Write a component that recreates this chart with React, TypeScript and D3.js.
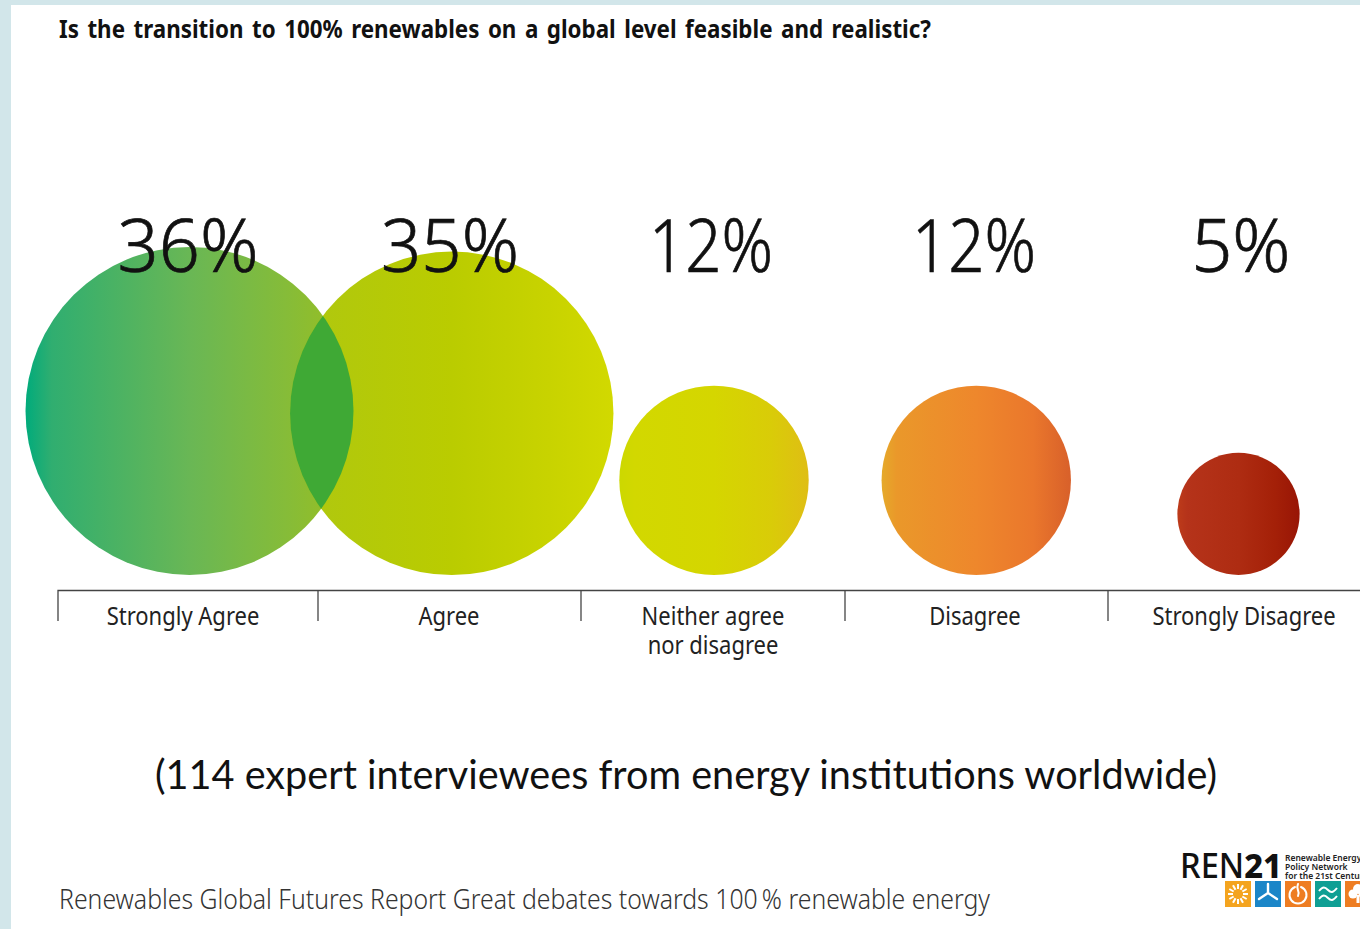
import React from "react";
import * as d3 from "d3";

const categories = ["Strongly Agree", "Agree", "Neither agree|nor disagree", "Disagree", "Strongly Disagree"];
const shares = [36, 35, 12, 12, 5];
const shareLabels = ["36%", "35%", "12%", "12%", "5%"];
const gradientColours = [
  ["#00ab7c", "#30ae70", "#69b755", "#86bc38", "#9bbf1e"],
  ["#a0c31c", "#b0c80e", "#bacc00", "#c8d300", "#d2d900"],
  ["#ccd800", "#d2d800", "#d5d600", "#d9cc08", "#dfbe14"],
  ["#e5aa2a", "#ea982a", "#ee872c", "#ea772c", "#d8602a"],
  ["#bd3b1a", "#b5331a", "#ae2c12", "#a42008", "#981505"],
];
const gradientOffsets = [0, 8, 50, 80, 100];
const labelCentres = [188, 450, 711, 974, 1241];
const labelWidths = [141, 138, 124, 124, 99];
const categoryCentres = [183, 449, 713, 975, 1244];
const bracketTicks = [58, 318, 581, 845, 1108];
const logoTiles = ["#f4a41f", "#1b86c8", "#ee7d22", "#0f9f94", "#ee7d22"];
const logoLines = ["Renewable Energy", "Policy Network", "for the 21st Century"];

const sans = "'Noto Sans', sans-serif";
const baseline = 575;

const radius = d3.scaleSqrt().domain([0, 36]).range([0, 164]);
const centre = d3.scalePoint<string>().domain(categories).range([189.5, 1238.5]);
const bracket = d3.line()([[bracketTicks[0], 621], [bracketTicks[0], 590.5], [1360, 590.5]]) as string;

function SunTile({ x }: { x: number }) {
  const rays = d3.range(12).map((i) => (i * Math.PI) / 6);
  return (
    <g transform={`translate(${x + 13},894)`} stroke="#fff" strokeWidth={2}>
      {rays.map((a, i) => (
        <line key={i} x1={5 * Math.cos(a)} y1={5 * Math.sin(a)} x2={10 * Math.cos(a)} y2={10 * Math.sin(a)} />
      ))}
    </g>
  );
}

function WindTile({ x }: { x: number }) {
  return (
    <g transform={`translate(${x + 13},893)`} stroke="#fff" strokeWidth={2.4} fill="none" strokeLinecap="round">
      <path d="M0,0V-9M0,0L9,6M0,0L-9,6" />
    </g>
  );
}

function PowerTile({ x }: { x: number }) {
  return (
    <g transform={`translate(${x + 13},895)`} stroke="#fff" strokeWidth={2} fill="none" strokeLinecap="round">
      <path d="M-3,-8A8.5,8.5 0 1 0 3,-8" />
      <path d="M0,-11C-3,-5 3,-4 0,1" />
    </g>
  );
}

function WaveTile({ x }: { x: number }) {
  return (
    <g transform={`translate(${x + 13},894)`} stroke="#fff" strokeWidth={2} fill="none">
      <path d="M-9,-3C-5,-8 -3,-7 0,-4S5,-1 9,-6" />
      <path d="M-9,5C-5,0 -3,1 0,4S5,7 9,2" />
    </g>
  );
}

function LeafTile({ x }: { x: number }) {
  return (
    <g transform={`translate(${x + 13},892)`} fill="#fff">
      <circle r={5} cy={-3} />
      <circle r={4.5} cx={-5} cy={2} />
      <circle r={4.5} cx={5} cy={2} />
      <rect x={-1.5} y={3} width={3} height={8} />
    </g>
  );
}

const tileIcons = [SunTile, WindTile, PowerTile, WaveTile, LeafTile];

export default function App() {
  return (
    <svg width={1360} height={929} style={{ position: "fixed", left: 0, top: 0, display: "block" }}>
      <defs>
        {gradientColours.map((stops, i) => (
          <linearGradient key={i} id={`bubble-${i}`} x1="0" x2="1" y1="0" y2="0">
            {stops.map((c, j) => (
              <stop key={j} offset={`${gradientOffsets[j]}%`} stopColor={c} />
            ))}
          </linearGradient>
        ))}
        <clipPath id="first-bubble">
          <circle cx={centre(categories[0])} cy={baseline - radius(shares[0])} r={radius(shares[0])} />
        </clipPath>
      </defs>

      <rect width={1360} height={929} fill="#d2e6ea" />
      <rect x={11} y={5} width={1349} height={924} fill="#fff" />

      <text x={59} y={38} fontFamily={sans} fontWeight={700} fontSize={25} wordSpacing={3} fill="#111"
        textLength={872} lengthAdjust="spacingAndGlyphs">
        Is the transition to 100% renewables on a global level feasible and realistic?
      </text>

      {shares.map((s, i) => (
        <circle key={i} cx={centre(categories[i])} cy={baseline - radius(s)} r={radius(s)} fill={`url(#bubble-${i})`} />
      ))}
      {/* Overlap of the two large bubbles */}
      <circle cx={centre(categories[1])} cy={baseline - radius(shares[1])} r={radius(shares[1])}
        fill="#3fa935" clipPath="url(#first-bubble)" />

      {shareLabels.map((t, i) => (
        <text key={i} x={labelCentres[i]} y={272} textAnchor="middle" fontFamily={sans} fontWeight={300}
          fontSize={74} fill="#111" stroke="#111" strokeWidth={0.7} textLength={labelWidths[i]} lengthAdjust="spacingAndGlyphs">
          {t}
        </text>
      ))}

      <path d={bracket} fill="none" stroke="#444" strokeWidth={1.3} />
      {bracketTicks.slice(1).map((x) => (
        <line key={x} x1={x} x2={x} y1={590.5} y2={621} stroke="#444" strokeWidth={1.3} />
      ))}

      {categories.map((c, i) =>
        c.split("|").map((line, j) => (
          <text key={line} x={categoryCentres[i]} y={625 + j * 29} textAnchor="middle" fontFamily={sans}
            fontSize={25} fill="#222" style={{ transform: "scaleX(0.88)", transformBox: "fill-box", transformOrigin: "center" }}>
            {line}
          </text>
        ))
      )}

      <text x={155} y={789} fontFamily="Lato, sans-serif" fontSize={40} fill="#111" textLength={1062} lengthAdjust="spacingAndGlyphs">
        (114 expert interviewees from energy institutions worldwide)
      </text>

      <text x={59} y={909} fontFamily={sans} fontWeight={300} fontSize={28} fill="#333" textLength={931} lengthAdjust="spacingAndGlyphs">
        Renewables Global Futures Report Great debates towards 100{"\u2009"}% renewable energy
      </text>

      <text x={1180} y={878} fontFamily={sans} fontSize={34} fill="#111" textLength={102} lengthAdjust="spacingAndGlyphs">
        <tspan fontWeight={500}>REN</tspan>
        <tspan fontWeight={800}>21</tspan>
      </text>
      {logoLines.map((t, i) => (
        <text key={t} x={1285} y={860.5 + i * 9} fontFamily={sans} fontWeight={600} fontSize={8.5} fill="#222">
          {t}
        </text>
      ))}
      {logoTiles.map((c, i) => {
        const x = 1225 + i * 30;
        const Icon = tileIcons[i];
        return (
          <g key={i}>
            <rect x={x} y={881} width={26} height={26} fill={c} />
            <Icon x={x} />
          </g>
        );
      })}
    </svg>
  );
}
